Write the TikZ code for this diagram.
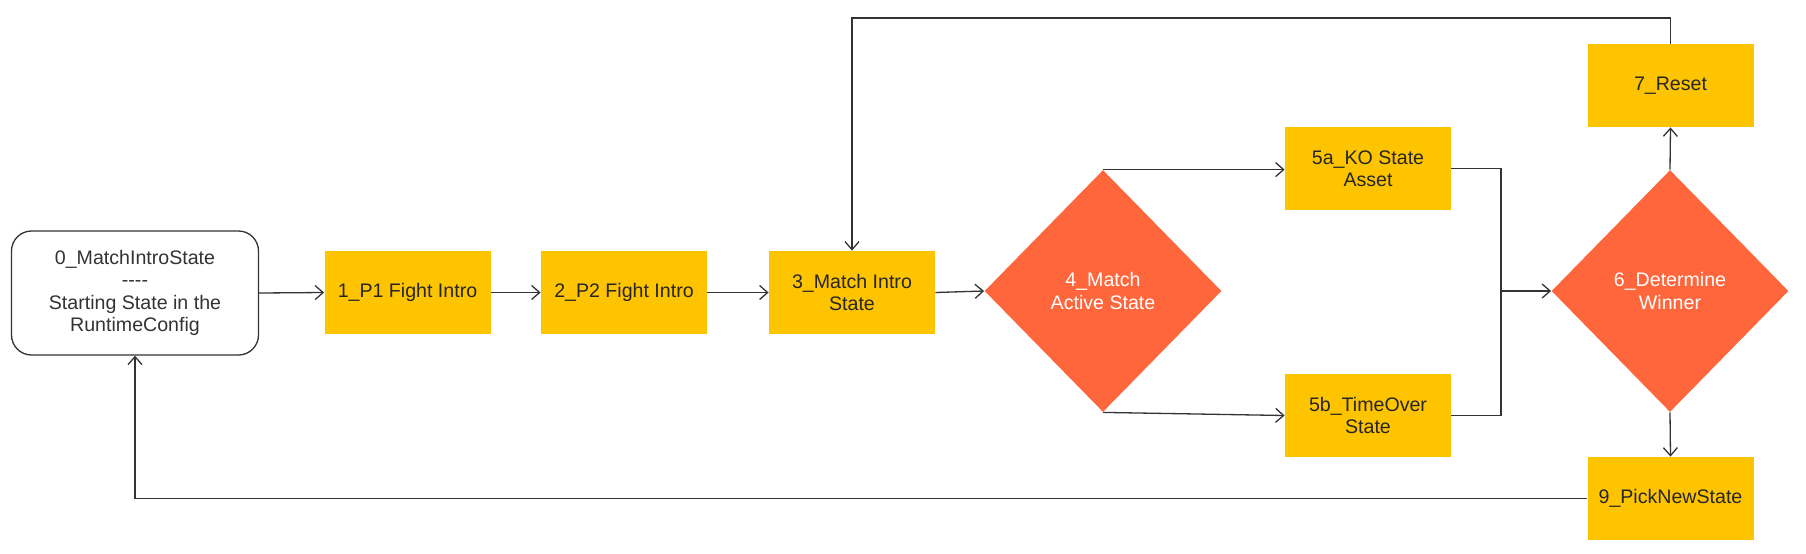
\documentclass[tikz,border=0pt]{standalone}
\usepackage{fontspec}
\setmainfont{Liberation Sans}
\usetikzlibrary{shapes.geometric,arrows.meta}
\definecolor{boxyellow}{RGB}{255,196,0}
\definecolor{dmdorange}{RGB}{255,102,60}
\definecolor{linegray}{RGB}{51,51,51}
\begin{document}
\begin{tikzpicture}[x=0.5pt,y=-0.5pt,
  every node/.style={font=\fontsize{9.8pt}{11.2pt}\selectfont, align=center},
  startbox/.style={draw=linegray, line width=0.65pt, rounded corners=10pt, fill=white,
    minimum width=123.5pt, minimum height=62pt, inner sep=0pt, text=linegray},
  statebox/.style={fill=boxyellow, minimum width=83pt, minimum height=41.5pt, inner sep=0pt, text=black!85},
  decision/.style={diamond, shape aspect=1, fill=dmdorange, minimum width=118.5pt,
    minimum height=121pt, inner sep=0pt, text=white},
  conn/.style={draw=linegray, line width=0.65pt, -{Straight Barb[length=4pt,width=7pt]}},
  plain/.style={draw=linegray, line width=0.65pt}]
\useasboundingbox (0,0) rectangle (1806,553);
\node[startbox] (n0) at (135,293) {0\_MatchIntroState\\{-}{-}{-}{-}\\Starting State in the\\RuntimeConfig};
\node[statebox] (n1) at (407.5,292.5) {1\_P1 Fight Intro};
\node[statebox] (n2) at (624,292.5) {2\_P2 Fight Intro};
\node[statebox] (n3) at (852,292.5) {3\_Match Intro\\State};
\node[decision] (d4) at (1103,291) {4\_Match\\Active State};
\node[statebox] (n5a) at (1368,168.5) {5a\_KO State\\Asset};
\node[statebox] (n5b) at (1368,415.5) {5b\_TimeOver\\State};
\node[decision] (d6) at (1670,291) {6\_Determine\\Winner};
\node[statebox] (n7) at (1670.5,85.5) {7\_Reset};
\node[statebox] (n9) at (1670.5,498.5) {9\_PickNewState};
\coordinate (m) at (1501,291);
\coordinate (t) at (852,18);
\draw[conn] (n0.east) -- (n1.west);
\draw[conn] (n1.east) -- (n2.west);
\draw[conn] (n2.east) -- (n3.west);
\draw[conn] (n3.east) -- (d4.west);
\draw[conn] (d4.north) -- (d4.north -| n5a.west);
\draw[conn] (d4.south) -- (n5b.west);
\draw[plain] (n5a.east) -| (m);
\draw[plain] (n5b.east) -| (m);
\draw[conn] (m) -- (d6.west);
\draw[conn] (d6.north) -- (n7.south);
\draw[conn] (d6.south) -- (n9.north);
\draw[conn] (n7.north) |- (t) -- (n3.north);
\draw[conn] (n9.west) -| (n0.south);
\end{tikzpicture}
\end{document}
